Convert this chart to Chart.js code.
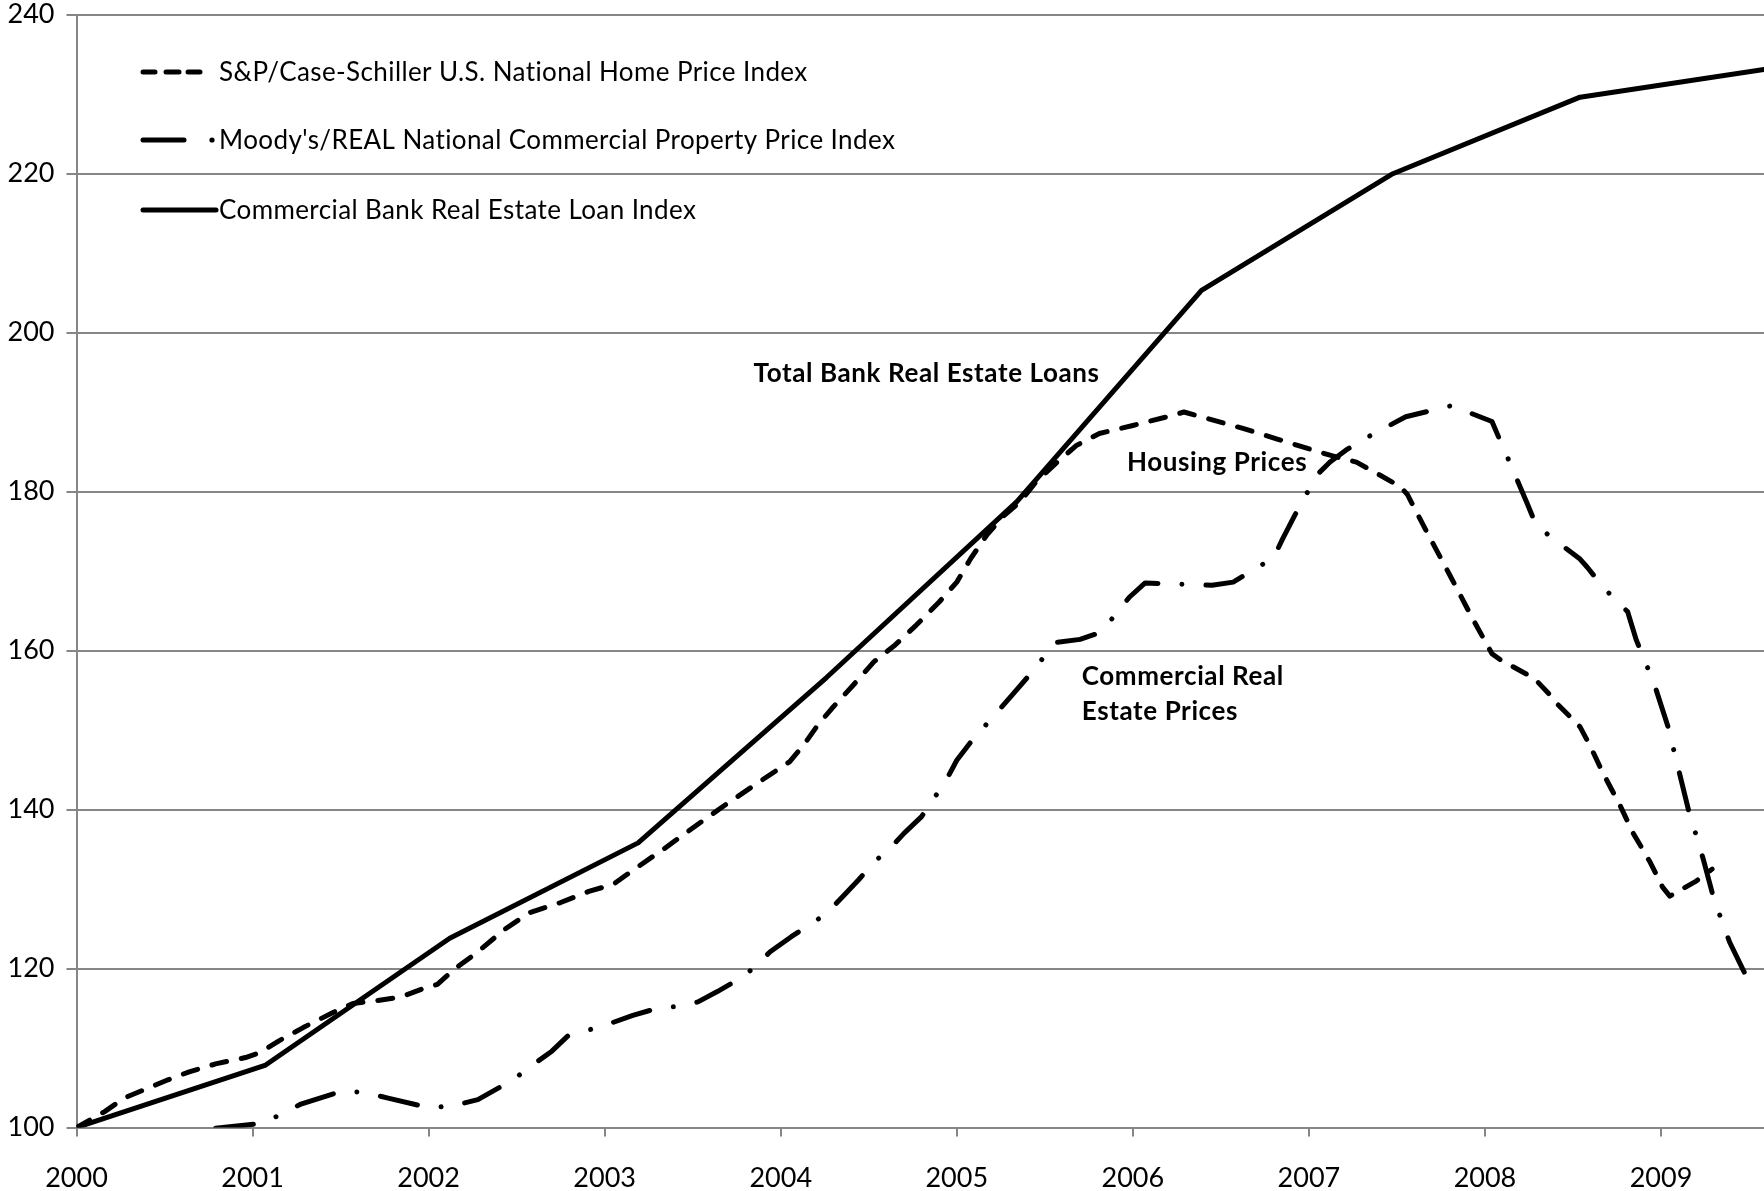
<!DOCTYPE html>
<html>
<head>
<meta charset="utf-8">
<script src="https://cdn.jsdelivr.net/npm/chart.js@4.4.1/dist/chart.umd.min.js"></script>
<style>
  html, body { margin: 0; padding: 0; background: #fff; }
  canvas { display: block; }
</style>
</head>
<body>
<canvas id="chart" width="1764" height="1191"></canvas>
<script>
// values (x = fractional year)
const yearTicks = [2000, 2001, 2002, 2003, 2004, 2005, 2006, 2007, 2008, 2009];
const valueTicks = [100, 120, 140, 160, 180, 200, 220, 240];

const seriesLabels = [
    'S&P/Case-Schiller U.S. National Home Price Index',
    "Moody's/REAL National Commercial Property Price Index",
    'Commercial Bank Real Estate Loan Index'
];

const homeYears = [2000, 2000.16, 2000.27, 2000.39, 2000.52, 2000.64, 2000.79, 2000.96, 2001.04, 2001.15,
    2001.29, 2001.46, 2001.57, 2001.69, 2001.84, 2001.96, 2002.05, 2002.14, 2002.28, 2002.43,
    2002.57, 2002.75, 2002.91, 2003.05, 2003.15, 2003.34, 2003.52, 2003.68, 2003.88, 2004.05,
    2004.13, 2004.21, 2004.29, 2004.41, 2004.53, 2004.65, 2004.77, 2004.90, 2005.00, 2005.08,
    2005.17, 2005.26, 2005.36, 2005.45, 2005.57, 2005.68, 2005.81, 2006.00, 2006.23, 2006.29,
    2006.42, 2006.63, 2006.82, 2006.95, 2007.13, 2007.27, 2007.40, 2007.52, 2007.56, 2007.67,
    2007.80, 2007.93, 2008.04, 2008.09, 2008.28, 2008.37, 2008.41, 2008.54, 2008.60, 2008.67,
    2008.77, 2008.84, 2008.94, 2009.01, 2009.05, 2009.20, 2009.29];
const homeIndex = [100, 102, 103.7, 104.8, 106, 107, 108, 108.8, 109.4, 110.9,
    112.6, 114.5, 115.6, 115.9, 116.4, 117.4, 118, 119.8, 122.1, 124.9,
    127, 128.3, 129.7, 130.6, 132.2, 135.1, 138.0, 140.5, 143.5, 146,
    148.1, 150.6, 152.7, 155.6, 158.6, 160.7, 163.2, 166.1, 168.6, 171.6,
    174.5, 176.8, 178.7, 181.2, 183.7, 185.8, 187.3, 188.3, 189.6, 190,
    189.2, 187.9, 186.6, 185.7, 184.5, 183.7, 182.1, 180.6, 179.6, 174.9,
    169.5, 164, 159.6, 158.8, 156.5, 154.4, 153.3, 150.4, 147.9, 144.6,
    140.4, 137.1, 133.3, 130.2, 129.1, 131, 132.5];

const commYears = [2000.79, 2001.04, 2001.16, 2001.27, 2001.51, 2001.64, 2001.77, 2002.00, 2002.13, 2002.28,
    2002.48, 2002.58, 2002.70, 2002.79, 2002.90, 2003.02, 2003.16, 2003.30, 2003.40, 2003.53,
    2003.64, 2003.79, 2003.84, 2003.94, 2004.06, 2004.26, 2004.35, 2004.44, 2004.53, 2004.62,
    2004.70, 2004.80, 2004.94, 2005.00, 2005.08, 2005.24, 2005.33, 2005.42, 2005.56, 2005.70,
    2005.82, 2005.98, 2006.07, 2006.19, 2006.45, 2006.57, 2006.69, 2006.80, 2006.85, 2006.91,
    2006.97, 2007.06, 2007.12, 2007.21, 2007.33, 2007.55, 2007.68, 2007.81, 2008.04, 2008.09,
    2008.14, 2008.24, 2008.29, 2008.39, 2008.54, 2008.58, 2008.66, 2008.75, 2008.81, 2008.86,
    2008.91, 2008.96, 2009.04, 2009.10, 2009.16, 2009.20, 2009.24, 2009.30, 2009.39, 2009.50];
const commIndex = [99.9, 100.5, 101.6, 102.9, 104.6, 104.4, 103.7, 102.5, 102.7, 103.5,
    106, 107.7, 109.6, 111.5, 112.2, 113, 114.1, 115, 115.2, 115.8,
    117.1, 119, 120, 122.1, 124, 126.9, 129, 131.1, 133.4, 135.1,
    137, 139.1, 143.7, 146.2, 148.5, 152.5, 154.8, 157.1, 161, 161.4,
    162.3, 166.7, 168.5, 168.4, 168.2, 168.6, 170.2, 171.7, 174, 176.6,
    179.1, 182.4, 183.7, 185.2, 186.8, 189.4, 190.1, 190.8, 188.8, 186.2,
    183.7, 178.5, 175.8, 174, 171.5, 170.5, 168.3, 166.1, 164.9, 161.3,
    158.6, 155.9, 150.4, 145, 139.6, 136.75, 133.75, 128.75, 123.3, 118.3];

const loanYears = [2000, 2001.07, 2002.12, 2003.19, 2004.26, 2005.34, 2006.39, 2007.47, 2008.54, 2009.585];
const loanIndex = [100, 107.8, 123.8, 135.8, 156.6, 178.7, 205.3, 219.9, 229.6, 233.1];

const noteTexts = ['Total Bank Real Estate Loans', 'Housing Prices', 'Commercial Real', 'Estate Prices'];
const notePlaces = [[2003.846, 194.85], [2005.967, 183.62], [2005.71, 156.67], [2005.71, 152.26]];

const GRID = '#868686';
Chart.defaults.font.family = 'Lato, "Open Sans", sans-serif';
Chart.defaults.color = '#000';

function toPoints(xs, ys) {
    return xs.map((x, i) => ({ x: x, y: ys[i] }));
}

const lineStyles = [
    { dash: [15, 15] },
    { dash: [38, 24, 0.01, 24] },
    { dash: [] }
];

// legend drawn inside the plot, top-left
const insideLegend = {
    id: 'insideLegend',
    afterDatasetsDraw(chart) {
        const ctx = chart.ctx;
        const rows = [72, 140, 210];
        ctx.save();
        ctx.lineWidth = 5;
        ctx.lineCap = 'round';
        ctx.strokeStyle = '#000';
        // sample 1: three short dashes
        [[143, 155], [166, 179], [188, 200]].forEach(seg => {
            ctx.beginPath();
            ctx.moveTo(seg[0], rows[0]);
            ctx.lineTo(seg[1], rows[0]);
            ctx.stroke();
        });
        // sample 2: long dash and a dot
        ctx.beginPath();
        ctx.moveTo(143, rows[1]);
        ctx.lineTo(184, rows[1]);
        ctx.stroke();
        ctx.beginPath();
        ctx.arc(212, rows[1], 2.6, 0, Math.PI * 2);
        ctx.fillStyle = '#000';
        ctx.fill();
        // sample 3: solid
        ctx.beginPath();
        ctx.moveTo(143, rows[2]);
        ctx.lineTo(216, rows[2]);
        ctx.stroke();

        ctx.font = '26px Lato';
        ctx.letterSpacing = '0.4px';
        ctx.textBaseline = 'middle';
        ctx.textAlign = 'left';
        chart.data.datasets.forEach((ds, i) => {
            ctx.fillText(ds.label, 219, rows[i] + 1);
        });
        ctx.restore();
    }
};

const notes = {
    id: 'notes',
    afterDatasetsDraw(chart) {
        const ctx = chart.ctx;
        const xs = chart.scales.x, ys = chart.scales.y;
        ctx.save();
        ctx.font = 'bold 26px Lato';
        ctx.letterSpacing = '0.6px';
        ctx.fillStyle = '#000';
        ctx.textBaseline = 'middle';
        ctx.textAlign = 'left';
        noteTexts.forEach((t, i) => {
            ctx.fillText(t, xs.getPixelForValue(notePlaces[i][0]), ys.getPixelForValue(notePlaces[i][1]));
        });
        ctx.restore();
    }
};

const datasets = [
    toPoints(homeYears, homeIndex),
    toPoints(commYears, commIndex),
    toPoints(loanYears, loanIndex)
].map((pts, i) => ({
    label: seriesLabels[i],
    data: pts,
    borderColor: '#000',
    borderWidth: 5,
    borderDash: lineStyles[i].dash,
    borderCapStyle: 'round',
    borderJoinStyle: 'round',
    pointRadius: 0,
    tension: 0,
    fill: false
}));

new Chart(document.getElementById('chart'), {
    type: 'line',
    data: { datasets: datasets },
    options: {
        responsive: false,
        animation: false,
        devicePixelRatio: 1,
        layout: { padding: { top: 0, right: 0, bottom: 0, left: 0 } },
        plugins: {
            legend: { display: false },
            tooltip: { enabled: false }
        },
        events: [],
        scales: {
            x: {
                type: 'linear',
                min: 2000,
                max: 2009.585,
                afterBuildTicks: scale => {
                    scale.ticks = yearTicks.map(v => ({ value: v }));
                },
                afterFit: scale => {
                    scale.height = 63.5;
                    scale.paddingLeft = 0;
                    scale.paddingRight = 0;
                },
                ticks: {
                    font: { size: 27 },
                    padding: 26,
                    maxRotation: 0,
                    autoSkip: false,
                    callback: v => String(v)
                },
                grid: {
                    drawOnChartArea: false,
                    drawTicks: true,
                    tickLength: 9,
                    color: GRID,
                    lineWidth: 2
                },
                border: { display: true, color: GRID, width: 2 }
            },
            y: {
                min: 100,
                max: 240,
                afterBuildTicks: scale => {
                    scale.ticks = valueTicks.map(v => ({ value: v }));
                },
                afterFit: scale => {
                    scale.width = 76.5;
                    scale.paddingTop = 14.5;
                    scale.paddingBottom = 0;
                },
                ticks: {
                    font: { size: 27 },
                    padding: 12,
                    callback: v => String(v)
                },
                grid: {
                    color: GRID,
                    lineWidth: 2,
                    drawTicks: true,
                    tickLength: 10
                },
                border: { display: true, color: GRID, width: 2 }
            }
        }
    },
    plugins: [insideLegend, notes]
});
</script>
</body>
</html>
